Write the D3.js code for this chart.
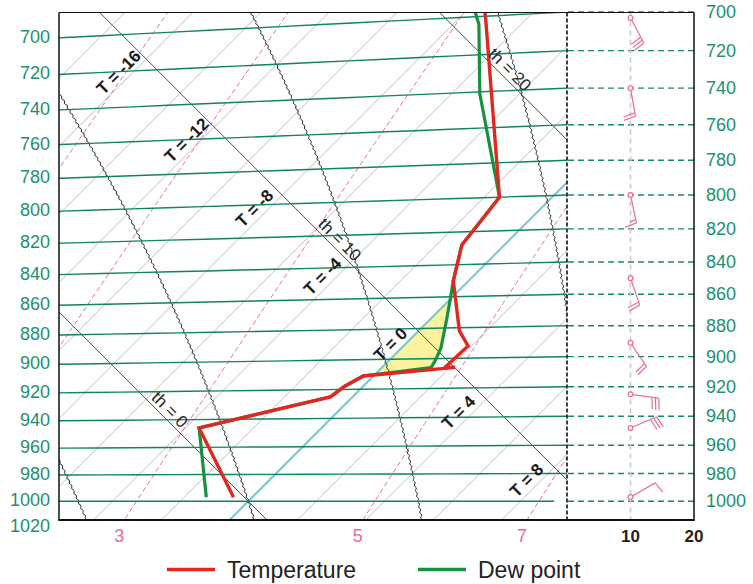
<!DOCTYPE html>
<html>
<head>
<meta charset="utf-8">
<script src="https://cdn.jsdelivr.net/npm/d3@7"></script>
<style>
  html, body { margin: 0; padding: 0; background: #fff; }
  svg { display: block; font-family: "Liberation Sans", Arial, Helvetica, sans-serif; }
</style>
</head>
<body>
<svg id="chart" width="753" height="584"></svg>
<script>
// ---- Sounding: temperature profile (hPa, °C)
const tempPressure = [997, 946, 925, 918, 911, 906, 906, 892, 882, 850, 828, 800, 703, 695];
const tempValues   = [-0.55, -3.6, -0.65, -0.55, -0.3, 2.15, 1.85, 1.9, 1.2, -0.45, -1.25, -1.55, -7.1, -7.6];

// ---- Sounding: dew point profile (hPa, °C)
const dewPressure = [997, 946, 925, 918, 911, 906, 901, 893, 875, 862, 850, 828, 800, 741, 704, 695];
const dewValues   = [-1.35, -3.6, -0.65, -0.55, -0.3, 1.45, 1.36, 1.16, 0.51, 0.02, -0.45, -1.25, -1.55, -5.17, -7.24, -7.9];

// ---- Wind reports (hPa, direction in degrees, speed in knots)
const windPressure  = [703, 740, 800, 850, 891, 925, 948, 997];
const windDirection = [152, 170, 168, 161, 146, 98, 67, 60];
const windSpeed     = [30, 20, 15, 20, 20, 30, 30, 10];

// ---- Reference lines of the diagram
const isobarLevels       = d3.range(700, 1021, 20);      // hPa
const rightIsobarLevels  = d3.range(700, 1001, 20);      // hPa
const isothermLevels     = d3.range(-20, 12, 2);         // °C
const labelledIsotherms  = [-16, -12, -8, -4, 0, 4, 8];  // °C
const isentropeLevels    = [0, 10, 20];                  // potential temperature, °C
const moistAdiabatLevels = [-5, 0, 5, 10];               // wet-bulb potential temperature, °C
const mixingRatioLevels  = [1.5, 2, 3, 5, 7];            // g/kg
const mixingRatioLabels  = [3, 5, 7];                    // g/kg
const windTicks          = [10, 20];

// ---- Layout
const plotL = 59, plotR = 567, plotT = 12.5, plotB = 520, panelR = 694;
const KAPPA = 0.2857;

// T–theta diagram: x follows (T + theta), y follows (T - theta), same scale on both
const sumScale  = d3.scaleLinear().domain([-11.132, 18.75]).range([plotL, plotR]);
const diffScale = d3.scaleLinear().domain([1.1029, -28.7382]).range([plotB, plotT]);
const windScale = d3.scaleLinear().domain([0, 20]).range([plotR, panelR]);

const thetaOf = (T, p) => (T + 273.15) * Math.pow(1000 / p, KAPPA) - 273.15;
const proj = (T, th) => [sumScale(T + th), diffScale(T - th)];
const projTP = (T, p) => proj(T, thetaOf(T, p));

// y of an isobar where it meets a vertical line at x
function isobarY(p, x) {
  const f = Math.pow(1000 / p, KAPPA);
  const s = sumScale.invert(x);
  const T = (s - 273.15 * (f - 1)) / (1 + f);
  return projTP(T, p)[1];
}

// Saturation mixing ratio (kg/kg) and pseudo-adiabatic lapse dT/dp
function satMix(Tc, p) {
  const es = 6.112 * Math.exp(17.67 * Tc / (Tc + 243.5));
  return 0.622 * es / (p - es);
}
function moistLapse(Tc, p) {
  const T = Tc + 273.15, rs = satMix(Tc, p);
  const Lv = 2.501e6, Rd = 287.04, cp = 1005.7, eps = 0.622;
  return (Rd * T + Lv * rs) / (p * (cp + Lv * Lv * rs * eps / (Rd * T * T)));
}
function moistAdiabat(thw) {
  const integrate = (pEnd, dp) => {
    const pts = [];
    let T = thw, p = 1000;
    pts.push([p, T]);
    while ((dp < 0 && p > pEnd) || (dp > 0 && p < pEnd)) {
      const k1 = moistLapse(T, p);
      const k2 = moistLapse(T + k1 * dp / 2, p + dp / 2);
      const k3 = moistLapse(T + k2 * dp / 2, p + dp / 2);
      const k4 = moistLapse(T + k3 * dp, p + dp);
      T += dp * (k1 + 2 * k2 + 2 * k3 + k4) / 6;
      p += dp;
      pts.push([p, T]);
    }
    return pts;
  };
  const up = integrate(670, -2);
  const down = integrate(1040, 2);
  return down.reverse().concat(up.slice(1)).map(([p, T]) => projTP(T, p));
}

// Hand-drawn ripple along a polyline (fixed small sine offset, normal to the path)
function ripple(points, amp, period) {
  const out = [];
  let acc = 0;
  for (let i = 0; i < points.length - 1; i++) {
    const [x0, y0] = points[i], [x1, y1] = points[i + 1];
    const len = Math.hypot(x1 - x0, y1 - y0);
    if (len === 0) continue;
    const nx = -(y1 - y0) / len, ny = (x1 - x0) / len;
    const n = Math.max(1, Math.ceil(len));
    for (let k = 0; k < n; k++) {
      const t = k / n, s = acc + t * len;
      const o = amp * Math.sin(2 * Math.PI * s / period);
      out.push([x0 + t * (x1 - x0) + nx * o, y0 + t * (y1 - y0) + ny * o]);
    }
    acc += len;
  }
  out.push(points[points.length - 1]);
  return out;
}

// Dew point of a given mixing ratio (g/kg) at pressure p
function mixingDewpoint(w, p) {
  const e = w * p / (622 + w);
  const l = Math.log(e / 6.112);
  return 243.5 * l / (17.67 - l);
}

const svg = d3.select("#chart");
const line = d3.line();

svg.append("defs").append("clipPath").attr("id", "diagram-clip")
  .append("rect").attr("x", plotL).attr("y", plotT)
  .attr("width", plotR - plotL).attr("height", plotB - plotT);

const diag = svg.append("g").attr("clip-path", "url(#diagram-clip)");

// Region where the dew point is above freezing, closed along the 0 °C isotherm
(function () {
  const pts = dewPressure.map((p, i) => ({ xy: projTP(dewValues[i], p), T: dewValues[i] }));
  let poly = [];
  for (let i = 0; i < pts.length - 1; i++) {
    const a = pts[i], b = pts[i + 1];
    if (a.T > 0) poly.push(a.xy);
    if ((a.T > 0) !== (b.T > 0)) {
      const t = (0 - a.T) / (b.T - a.T);
      poly.push([a.xy[0] + t * (b.xy[0] - a.xy[0]), a.xy[1] + t * (b.xy[1] - a.xy[1])]);
    }
  }
  if (poly.length > 2) {
    diag.append("path").attr("d", line(poly) + "Z")
      .attr("fill", "#faf29c").attr("stroke", "none");
  }
})();

// Isotherms
diag.append("g").selectAll("path").data(isothermLevels.filter(t => t !== 0)).join("path")
  .attr("d", T => line([proj(T, -15), proj(T, 35)]))
  .attr("fill", "none").attr("stroke", "#bdbdbd").attr("stroke-width", 1);

// Mixing ratio lines
diag.append("g").selectAll("path").data(mixingRatioLevels).join("path")
  .attr("d", w => line(d3.range(1045, 665, -5).map(p => projTP(mixingDewpoint(w, p), p))))
  .attr("fill", "none").attr("stroke", "#ec6c9c").attr("stroke-width", 1)
  .attr("stroke-dasharray", "5,3");

// Freezing-level isotherm
diag.append("path").attr("d", line([proj(0, -15), proj(0, 35)]))
  .attr("fill", "none").attr("stroke", "#72c6d8").attr("stroke-width", 2);

// Dry adiabats
diag.append("g").selectAll("path").data(isentropeLevels).join("path")
  .attr("d", th => line([proj(-30, th), proj(20, th)]))
  .attr("fill", "none").attr("stroke", "#3a3a3a").attr("stroke-width", 0.9);

// Saturated adiabats
diag.append("g").selectAll("path").data(moistAdiabatLevels).join("path")
  .attr("d", thw => line(ripple(moistAdiabat(thw), 0.7, 5.5)))
  .attr("fill", "none").attr("stroke", "#1e1e1e").attr("stroke-width", 1);

// Isobars
diag.append("g").selectAll("path").data(isobarLevels).join("path")
  .attr("d", p => line(d3.range(-35, 9.01, 1).map(T => projTP(T, p))))
  .attr("fill", "none").attr("stroke", "#10845f").attr("stroke-width", 1.4);

// Profiles
diag.append("path")
  .attr("d", line(dewPressure.map((p, i) => projTP(dewValues[i], p))))
  .attr("fill", "none").attr("stroke", "#159141").attr("stroke-width", 3.2)
  .attr("stroke-linejoin", "miter");
diag.append("path")
  .attr("d", line(tempPressure.map((p, i) => projTP(tempValues[i], p))))
  .attr("fill", "none").attr("stroke", "#e3261f").attr("stroke-width", 3.4)
  .attr("stroke-linejoin", "miter");

// Isotherm labels
const tLab = diag.append("g");
labelledIsotherms.forEach(T => {
  const [x0, y0] = proj(T, 8.8);
  const x = x0 - 7.1, y = y0 - 7.1;
  tLab.append("text")
    .attr("transform", `translate(${x},${y}) rotate(-45)`)
    .attr("text-anchor", "middle").attr("dominant-baseline", "central")
    .attr("font-size", 17).attr("font-weight", "bold").attr("fill", "#1a1a1a")
    .text(`T = ${T}`);
});

// Dry adiabat labels
isentropeLevels.forEach(th => {
  const [x0, y0] = proj(-5, th);
  const x = x0 + 6.4, y = y0 - 6.4;
  tLab.append("text")
    .attr("transform", `translate(${x},${y}) rotate(45)`)
    .attr("text-anchor", "middle").attr("dominant-baseline", "central")
    .attr("font-size", 17).attr("fill", "#2a2a2a")
    .text(`th = ${th}`);
});

// ---- Wind panel
const panel = svg.append("g");
panel.selectAll("line.grid").data(rightIsobarLevels).join("line")
  .attr("x1", plotR + 1).attr("x2", panelR)
  .attr("y1", p => isobarY(p, plotR)).attr("y2", p => isobarY(p, plotR))
  .attr("stroke", "#178a64").attr("stroke-width", 1.4).attr("stroke-dasharray", "6,4");

panel.append("line")
  .attr("x1", windScale(10)).attr("x2", windScale(10))
  .attr("y1", plotT).attr("y2", plotB)
  .attr("stroke", "#c9c9c9").attr("stroke-width", 1.6).attr("stroke-dasharray", "5,4");

// Wind barbs
const barbColor = "#ec6c9c";
windPressure.forEach((p, i) => {
  const cx = windScale(10), cy = isobarY(p, plotR);
  const b = windDirection[i] * Math.PI / 180;
  const dx = Math.sin(b), dy = -Math.cos(b);
  const staff = 28.5;
  const tipX = cx + dx * staff, tipY = cy + dy * staff;
  const a = 80 * Math.PI / 180;
  const fx = dx * Math.cos(a) - dy * Math.sin(a);
  const fy = dx * Math.sin(a) + dy * Math.cos(a);
  const g = panel.append("g").attr("stroke", barbColor).attr("stroke-width", 1.2).attr("fill", "none");
  g.append("line").attr("x1", cx + dx * 2.4).attr("y1", cy + dy * 2.4).attr("x2", tipX).attr("y2", tipY);
  let speed = windSpeed[i], k = 0;
  while (speed >= 10) {
    const sx = tipX - dx * 3.4 * k, sy = tipY - dy * 3.4 * k;
    g.append("line").attr("x1", sx).attr("y1", sy).attr("x2", sx + fx * 12).attr("y2", sy + fy * 12);
    speed -= 10; k++;
  }
  if (speed >= 5) {
    const sx = tipX - dx * 3.4 * k, sy = tipY - dy * 3.4 * k;
    g.append("line").attr("x1", sx).attr("y1", sy).attr("x2", sx + fx * 6).attr("y2", sy + fy * 6);
  }
  g.append("circle").attr("cx", cx).attr("cy", cy).attr("r", 2.4).attr("fill", "#fff");
});

// ---- Frame
const frame = svg.append("g").attr("stroke", "#111").attr("fill", "none");
frame.append("line").attr("x1", plotL).attr("x2", panelR).attr("y1", plotT).attr("y2", plotT).attr("stroke-width", 1.2);
frame.append("line").attr("x1", plotL).attr("x2", plotL).attr("y1", plotT).attr("y2", plotB).attr("stroke-width", 1.5);
frame.append("line").attr("x1", panelR).attr("x2", panelR).attr("y1", plotT).attr("y2", plotB).attr("stroke-width", 1.5);
frame.append("line").attr("x1", plotL - 0.75).attr("x2", panelR + 0.75).attr("y1", plotB).attr("y2", plotB).attr("stroke-width", 1.8);
frame.append("line").attr("x1", plotR).attr("x2", plotR).attr("y1", plotT).attr("y2", plotB)
  .attr("stroke-width", 1.6).attr("stroke-dasharray", "4,2");

// ---- Axis labels
const labelColor = "#1c9070";
svg.append("g").selectAll("text").data(isobarLevels).join("text")
  .attr("x", 50).attr("y", p => isobarY(p, plotL) - 1)
  .attr("text-anchor", "end").attr("dominant-baseline", "central")
  .attr("font-size", 18).attr("fill", labelColor).text(p => p);

svg.append("g").selectAll("text").data(rightIsobarLevels).join("text")
  .attr("x", 706).attr("y", p => isobarY(p, plotR))
  .attr("text-anchor", "start").attr("dominant-baseline", "central")
  .attr("font-size", 18).attr("fill", labelColor).text(p => p);

// Mixing ratio labels where each line meets the bottom edge
mixingRatioLabels.forEach(w => {
  let lo = 960, hi = 1060;
  for (let k = 0; k < 40; k++) {
    const mid = (lo + hi) / 2;
    const y = projTP(mixingDewpoint(w, mid), mid)[1];
    if (y < plotB) lo = mid; else hi = mid;
  }
  const x = projTP(mixingDewpoint(w, lo), lo)[0];
  svg.append("text").attr("x", x).attr("y", 542)
    .attr("text-anchor", "end").attr("font-size", 18).attr("fill", "#ea6a9c").text(w);
});

svg.append("g").selectAll("text").data(windTicks).join("text")
  .attr("x", d => windScale(d)).attr("y", 542)
  .attr("text-anchor", "middle").attr("font-size", 17).attr("font-weight", "bold")
  .attr("fill", "#222").text(d => d);

// ---- Legend
const legend = svg.append("g");
const legendItems = [
  { label: "Temperature", color: "#e3261f", x: 167 },
  { label: "Dew point", color: "#159141", x: 418 }
];
legendItems.forEach(d => {
  legend.append("line").attr("x1", d.x).attr("x2", d.x + 48).attr("y1", 569.5).attr("y2", 569.5)
    .attr("stroke", d.color).attr("stroke-width", 3.6);
  legend.append("text").attr("x", d.x + 60).attr("y", 578)
    .attr("font-size", 23).attr("fill", "#222").text(d.label);
});
</script>
</body>
</html>
